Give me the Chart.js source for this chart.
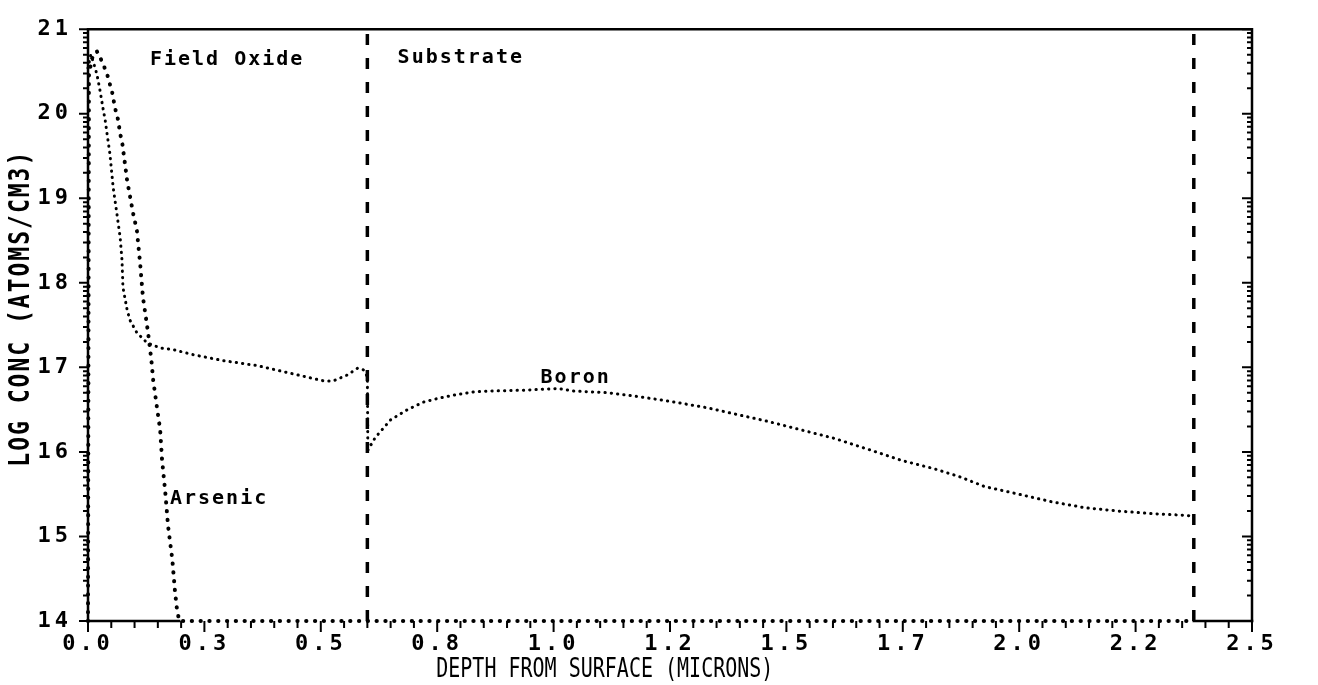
<!DOCTYPE html>
<html lang="en">
  <head>
    <meta charset="UTF-8" />
    <meta name="viewport" content="width=device-width, initial-scale=1.0" />
    <title>Doping profile</title>
    <style>
      html,
      body {
        margin: 0;
        padding: 0;
        background: #fff;
      }
      .container {
        width: 1318px;
        height: 685px;
        position: relative;
      }
    </style>
  </head>
  <body>
    <div class="container">
      <canvas id="myChart"></canvas>
    </div>

    <script src="https://cdn.jsdelivr.net/npm/chart.js"></script>

    <script>
      // depth (microns) and log10 concentration (atoms/cm3)
      const boronDepth = [
        0, 0.006, 0.011, 0.019, 0.026, 0.032, 0.037, 0.041, 0.047, 0.054, 0.062,
        0.069, 0.073, 0.075, 0.084, 0.09, 0.105, 0.127, 0.155, 0.183, 0.226, 0.29,
        0.364, 0.435, 0.506, 0.527, 0.557, 0.579, 0.592, 0.6, 0.601, 0.617, 0.65,
        0.686, 0.721, 0.757, 0.794, 0.828, 0.865, 0.936, 1.009, 1.043, 1.117,
        1.188, 1.259, 1.332, 1.396, 1.461, 1.532, 1.603, 1.676, 1.747, 1.818,
        1.87, 1.926, 1.999, 2.07, 2.141, 2.214, 2.285, 2.356, 2.375,
      ];
      const boronLog = [
        20.54, 20.7, 20.62, 20.47, 20.27, 20.07, 19.92, 19.76, 19.53, 19.13,
        18.82, 18.54, 18.27, 17.95, 17.68, 17.56, 17.41, 17.29, 17.23, 17.21,
        17.15, 17.08, 17.02, 16.93, 16.84, 16.84, 16.91, 16.99, 16.97, 16.89,
        16.02, 16.17, 16.38, 16.5, 16.59, 16.64, 16.68, 16.71, 16.72, 16.73,
        16.75, 16.72, 16.7, 16.65, 16.59, 16.52, 16.44, 16.36, 16.26, 16.16,
        16.03, 15.9, 15.8, 15.71, 15.59, 15.5, 15.41, 15.34, 15.3, 15.27, 15.25,
        15.24,
      ];
      const arsenicDepth = [
        0, 0.002, 0.008, 0.019, 0.03, 0.041, 0.052, 0.058, 0.065, 0.069, 0.073,
        0.084, 0.097, 0.105, 0.112, 0.118, 0.123, 0.129, 0.136, 0.14, 0.148,
        0.155, 0.159, 0.166, 0.172, 0.181, 0.187, 0.191, 0.196, 2.375,
      ];
      const arsenicLog = [
        14, 20.45, 20.65, 20.74, 20.62, 20.47, 20.25, 20.07, 19.92, 19.76, 19.68,
        19.21, 18.82, 18.62, 18.23, 17.83, 17.64, 17.41, 17.09, 16.85, 16.53,
        16.26, 15.91, 15.52, 15.12, 14.73, 14.34, 14.14, 14, 14,
      ];
      // oxide/substrate boundary and end of the simulated region
      const interfaceDepths = [0.6, 2.375];

      const xTickValues = [0, 0.25, 0.5, 0.75, 1, 1.25, 1.5, 1.75, 2, 2.25, 2.5];
      const xTickLabels = ["0.0", "0.3", "0.5", "0.8", "1.0", "1.2", "1.5", "1.7", "2.0", "2.2", "2.5"];
      const yTickValues = [14, 15, 16, 17, 18, 19, 20, 21];
      const yTickLabels = ["14", "15", "16", "17", "18", "19", "20", "21"];

      const regionLabels = [
        { text: "Field Oxide", x: 0.133, y: 20.58 },
        { text: "Substrate", x: 0.665, y: 20.6 },
        { text: "Arsenic", x: 0.176, y: 15.38 },
        { text: "Boron", x: 0.972, y: 16.82 },
      ];

      const xMin = 0, xMax = 2.5, yMin = 14, yMax = 21;
      const FONT = '"DejaVu Sans Mono", monospace';

      // minor ticks: every 0.05 micron, log decades on y
      const xMinor = [];
      for (let i = 0; i <= 50; i++) xMinor.push(i * 0.05);
      const yMinor = [];
      for (let d = yMin; d < yMax; d++)
        for (let k = 2; k <= 9; k++) yMinor.push(d + Math.log10(k));

      const toPoints = (xs, ys) => xs.map((v, i) => ({ x: v, y: ys[i] }));

      const framePlugin = {
        id: "frame",
        beforeDraw(chart) {
          chart.ctx.letterSpacing = "4px";
        },
        afterDraw(chart) {
          const {
            ctx,
            chartArea: { left, right, top, bottom },
            scales: { x, y },
          } = chart;
          ctx.save();
          ctx.letterSpacing = "0px";
          ctx.strokeStyle = "#000";
          ctx.fillStyle = "#000";

          // box: left, top and right sides
          ctx.lineWidth = 2.5;
          ctx.lineCap = "square";
          ctx.beginPath();
          ctx.moveTo(left, bottom);
          ctx.lineTo(left, top);
          ctx.lineTo(right, top);
          ctx.lineTo(right, bottom);
          ctx.stroke();

          // bottom axis is solid only outside the arsenic floor
          const floorFrom = arsenicDepth[arsenicLog.indexOf(yMin, 1)];
          const floorTo = arsenicDepth[arsenicDepth.length - 1];
          ctx.beginPath();
          ctx.moveTo(left, bottom);
          ctx.lineTo(x.getPixelForValue(floorFrom), bottom);
          ctx.moveTo(x.getPixelForValue(floorTo), bottom);
          ctx.lineTo(right, bottom);
          ctx.stroke();

          // tick marks
          ctx.lineWidth = 2;
          ctx.lineCap = "butt";
          ctx.beginPath();
          yTickValues.forEach((v) => {
            const py = y.getPixelForValue(v);
            ctx.moveTo(left, py);
            ctx.lineTo(left - 9, py);
            ctx.moveTo(right, py);
            ctx.lineTo(right - 10, py);
          });
          yMinor.forEach((v) => {
            const py = y.getPixelForValue(v);
            ctx.moveTo(left, py);
            ctx.lineTo(left - 5, py);
            ctx.moveTo(right, py);
            ctx.lineTo(right - 5, py);
          });
          xMinor.forEach((v) => {
            const px = x.getPixelForValue(v);
            ctx.moveTo(px, bottom);
            ctx.lineTo(px, bottom + 7);
          });
          xTickValues.forEach((v) => {
            const px = x.getPixelForValue(v);
            ctx.moveTo(px, bottom);
            ctx.lineTo(px, bottom + 11);
          });
          ctx.stroke();

          // region / species labels
          ctx.font = `bold 20px ${FONT}`;
          ctx.letterSpacing = "2px";
          ctx.textAlign = "left";
          ctx.textBaseline = "alphabetic";
          regionLabels.forEach((l) => {
            ctx.fillText(l.text, x.getPixelForValue(l.x), y.getPixelForValue(l.y));
          });

          // axis titles
          ctx.save();
          ctx.font = `20px ${FONT}`;
          ctx.letterSpacing = "0px";
          ctx.textAlign = "center";
          ctx.translate(x.getPixelForValue(1.11), bottom + 56);
          ctx.scale(1, 1.3);
          ctx.fillText("DEPTH FROM SURFACE (MICRONS)", 0, 0);
          ctx.restore();

          ctx.save();
          ctx.font = `bold 23px ${FONT}`;
          ctx.letterSpacing = "2px";
          ctx.textAlign = "center";
          ctx.textBaseline = "middle";
          ctx.translate(22, y.getPixelForValue(17.7));
          ctx.rotate(-Math.PI / 2);
          ctx.scale(1, 1.2);
          ctx.fillText("LOG CONC (ATOMS/CM3)", 0, 0);
          ctx.restore();

          ctx.restore();
        },
      };

      const ctx = document.getElementById("myChart").getContext("2d");

      new Chart(ctx, {
        type: "line",
        data: {
          datasets: [
            {
              label: "Boron",
              data: toPoints(boronDepth, boronLog),
              borderColor: "#000",
              borderWidth: 3,
              borderDash: [0.3, 6],
              borderCapStyle: "round",
              pointRadius: 0,
              clip: 8,
            },
            {
              label: "Arsenic",
              data: toPoints(arsenicDepth, arsenicLog),
              borderColor: "#000",
              borderWidth: 4,
              borderDash: [0.3, 8.5],
              borderCapStyle: "round",
              pointRadius: 0,
              clip: 8,
            },
            ...interfaceDepths.map((d) => ({
              label: "Interface",
              data: [
                { x: d, y: yMin },
                { x: d, y: yMax },
              ],
              borderColor: "#000",
              borderWidth: 3.5,
              borderDash: [11, 13],
              pointRadius: 0,
            })),
          ],
        },
        options: {
          responsive: true,
          maintainAspectRatio: false,
          animation: false,
          layout: { padding: { top: 27, right: 66, left: 0, bottom: 0 } },
          plugins: {
            legend: { display: false },
            tooltip: { enabled: false },
          },
          scales: {
            x: {
              type: "linear",
              min: xMin,
              max: xMax,
              grid: { display: false, drawTicks: false },
              border: { display: false },
              afterBuildTicks: (s) => {
                s.ticks = xTickValues.map((v) => ({ value: v }));
              },
              afterFit: (s) => {
                s.height = 64;
              },
              ticks: {
                autoSkip: false,
                maxRotation: 0,
                padding: 10,
                color: "#000",
                font: { family: FONT, size: 22, weight: "bold" },
                callback: (v, i) => xTickLabels[i],
              },
            },
            y: {
              type: "linear",
              min: yMin,
              max: yMax,
              grid: { display: false, drawTicks: false },
              border: { display: false },
              afterBuildTicks: (s) => {
                s.ticks = yTickValues.map((v) => ({ value: v }));
              },
              afterFit: (s) => {
                s.width = 88;
              },
              ticks: {
                autoSkip: false,
                padding: 16,
                color: "#000",
                font: { family: FONT, size: 22, weight: "bold" },
                callback: (v, i) => yTickLabels[i],
              },
            },
          },
        },
        plugins: [framePlugin],
      });
    </script>
  </body>
</html>
